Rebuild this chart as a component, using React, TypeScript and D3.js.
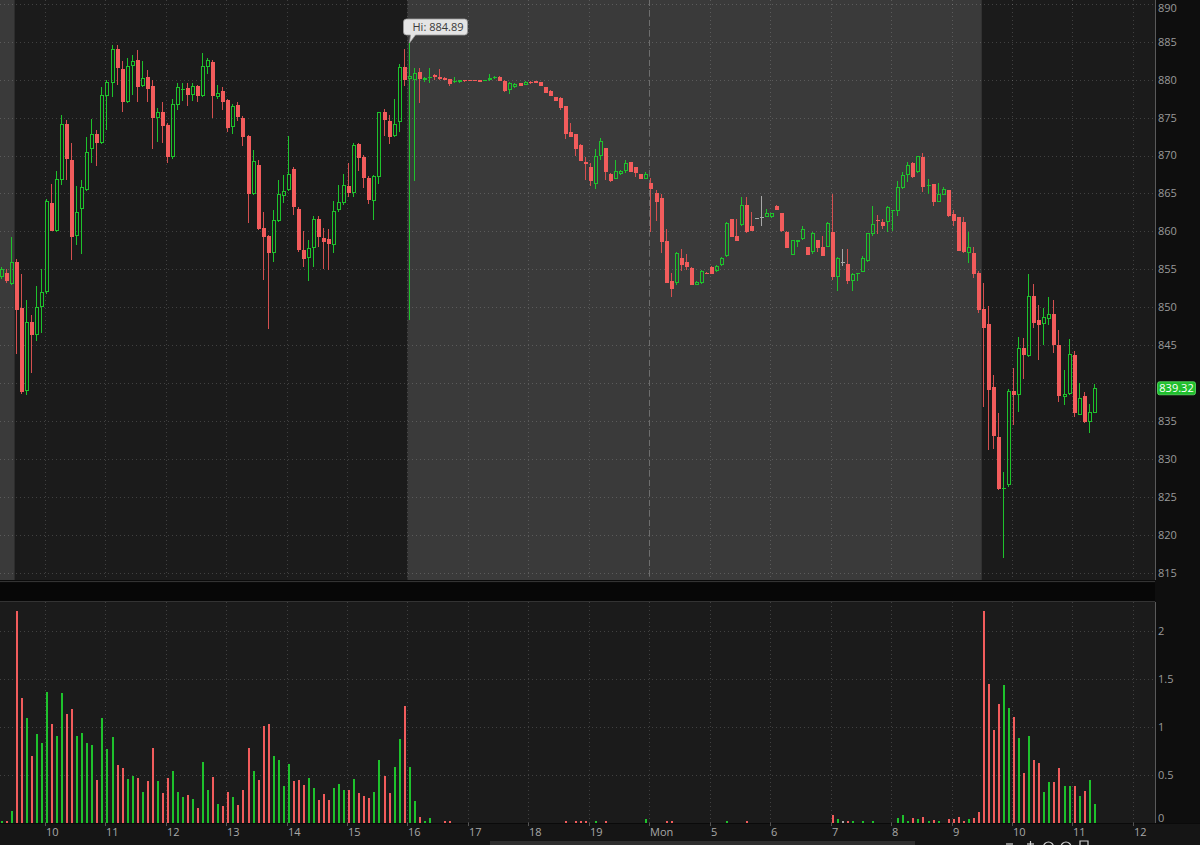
import React, { useEffect } from 'react';
import * as d3 from 'd3';

// [open, high, low, close, volume(M)] per 5-minute bar
type Bar = [number, number, number, number, number];

const FIRST_INDEX = -3; // Friday 9:15 bar

const fridayPre: Bar[] = [
  [854.0, 855.3, 853.7, 855.0, 0.02],
  [854.55, 855.0, 853.2, 853.4, 0.01],
  [853.06, 859.2, 853.0, 856.0, 0.12],
];

const fridaySession: Bar[] = [
  [856.0, 856.4, 843.8, 849.6, 2.21],
  [849.9, 854.4, 838.6, 838.8, 1.3],
  [838.9, 851.0, 838.4, 848.0, 1.09],
  [848.0, 849.0, 841.4, 846.4, 0.7],
  [846.4, 852.8, 845.5, 850.1, 0.92],
  [850.0, 855.0, 846.6, 852.0, 0.83],
  [852.05, 864.3, 851.8, 864.0, 1.36],
  [863.7, 866.2, 860.0, 860.0, 1.03],
  [860.0, 867.9, 859.9, 866.85, 0.9],
  [866.8, 875.3, 866.1, 874.2, 1.35],
  [874.15, 874.7, 866.8, 869.5, 1.13],
  [869.4, 871.6, 856.2, 859.3, 1.18],
  [859.4, 866.0, 858.2, 862.6, 0.9],
  [863.0, 866.8, 857.0, 865.8, 0.93],
  [865.4, 872.4, 865.3, 870.5, 0.83],
  [870.8, 874.8, 869.0, 872.8, 0.81],
  [872.9, 873.4, 868.6, 871.7, 0.44],
  [871.6, 879.0, 871.5, 878.0, 1.09],
  [877.9, 880.0, 873.4, 879.7, 0.77],
  [879.6, 884.6, 877.7, 884.0, 0.89],
  [884.0, 884.6, 879.3, 881.6, 0.6],
  [881.35, 882.4, 875.8, 877.1, 0.57],
  [877.0, 882.9, 876.9, 881.8, 0.46],
  [881.8, 883.2, 878.0, 882.4, 0.49],
  [882.6, 883.9, 877.1, 879.0, 0.47],
  [879.1, 882.4, 879.0, 880.2, 0.32],
  [880.3, 881.3, 877.1, 878.8, 0.43],
  [879.1, 879.9, 870.9, 875.0, 0.78],
  [874.9, 876.3, 871.8, 875.8, 0.43],
  [875.8, 877.0, 871.7, 873.9, 0.31],
  [874.0, 874.3, 869.05, 869.75, 0.47],
  [869.8, 877.5, 869.6, 876.8, 0.54],
  [876.6, 879.5, 876.0, 879.0, 0.32],
  [878.6, 879.5, 877.2, 878.8, 0.27],
  [878.9, 879.6, 876.5, 878.0, 0.29],
  [878.0, 879.5, 877.2, 879.2, 0.25],
  [879.1, 879.3, 877.1, 877.9, 0.15],
  [877.9, 883.5, 877.7, 881.8, 0.63],
  [881.7, 882.8, 880.8, 882.6, 0.34],
  [882.3, 882.6, 875.0, 877.8, 0.48],
  [877.75, 879.3, 877.5, 878.3, 0.2],
  [878.5, 879.0, 876.0, 877.1, 0.17],
  [877.3, 877.5, 873.1, 873.6, 0.32],
  [873.7, 876.8, 872.9, 876.5, 0.27],
  [876.65, 877.0, 874.5, 875.1, 0.18],
  [875.0, 875.2, 871.2, 872.5, 0.34],
  [872.6, 872.7, 861.1, 864.9, 0.78],
  [864.9, 870.7, 864.8, 869.3, 0.54],
  [868.8, 869.4, 860.2, 860.3, 0.44],
  [860.5, 862.6, 853.6, 859.3, 1.01],
  [859.4, 859.5, 847.1, 857.2, 1.03],
  [857.1, 862.8, 856.0, 861.5, 0.7],
  [861.4, 866.8, 861.3, 864.9, 0.65],
  [864.7, 867.4, 863.7, 865.3, 0.38],
  [865.4, 872.6, 865.3, 867.6, 0.61],
  [868.2, 868.5, 862.2, 863.2, 0.43],
  [863.0, 863.2, 857.3, 857.5, 0.44],
  [857.5, 860.0, 855.3, 856.3, 0.39],
  [856.5, 858.9, 853.5, 857.8, 0.47],
  [857.8, 862.0, 855.3, 861.7, 0.36],
  [861.6, 862.0, 858.0, 859.3, 0.24],
  [859.1, 860.4, 855.0, 858.55, 0.3],
  [858.95, 860.3, 854.9, 858.3, 0.24],
  [858.2, 864.0, 857.2, 862.7, 0.36],
  [862.8, 866.1, 862.5, 863.9, 0.4],
  [863.7, 867.6, 863.5, 866.1, 0.34],
  [866.0, 869.0, 864.6, 865.1, 0.34],
  [865.0, 871.6, 864.6, 871.4, 0.46],
  [871.5, 871.7, 867.9, 869.7, 0.31],
  [869.75, 870.1, 865.7, 867.0, 0.28],
  [867.0, 867.3, 863.6, 864.2, 0.26],
  [864.0, 867.4, 861.5, 867.3, 0.32],
  [867.2, 875.8, 866.3, 875.7, 0.65],
  [875.8, 876.1, 872.6, 874.7, 0.49],
  [874.6, 875.3, 871.5, 872.5, 0.31],
  [872.6, 877.5, 872.5, 874.1, 0.58],
  [874.4, 882.0, 873.1, 881.7, 0.87],
  [881.7, 884.0, 879.1, 880.0, 1.22],
];

const fridayAfter: Bar[] = [
  [880.05, 884.89, 848.3, 880.5, 0.58],
  [879.9, 881.5, 866.6, 880.9, 0.23],
  [881.05, 881.6, 876.97, 880.04, 0.06],
  [879.96, 880.4, 879.74, 880.26, 0.02],
  [880.3, 881.5, 879.6, 880.4, 0.05],
  [880.6, 880.8, 879.96, 880.3, 0],
  [880.3, 881.4, 880.0, 880.1, 0],
  [880.2, 880.3, 879.9, 880.0, 0.01],
  [880.1, 880.15, 879.1, 879.4, 0.01],
  [879.7, 880.3, 879.5, 879.8, 0],
  [879.7, 880.0, 879.6, 879.96, 0],
  [879.95, 880.0, 879.75, 879.8, 0],
  [879.95, 880.0, 879.8, 879.85, 0],
  [879.95, 880.0, 879.85, 879.88, 0],
  [879.9, 879.95, 879.7, 879.75, 0],
  [879.9, 880.0, 879.85, 879.96, 0],
  [879.96, 880.75, 879.87, 880.26, 0],
  [880.2, 880.5, 880.15, 880.3, 0],
  [880.4, 880.5, 879.8, 879.82, 0],
  [879.87, 879.96, 878.42, 878.55, 0],
  [878.64, 879.65, 878.11, 879.52, 0],
  [879.0, 879.5, 878.9, 879.4, 0],
  [879.5, 879.6, 879.1, 879.17, 0],
  [879.3, 879.8, 879.25, 879.74, 0],
  [879.74, 879.8, 879.45, 879.5, 0],
  [879.78, 879.8, 879.5, 879.52, 0],
  [879.65, 879.7, 879.15, 879.2, 0],
  [878.99, 879.0, 878.25, 878.29, 0],
  [878.5, 878.6, 877.85, 877.89, 0],
  [877.67, 877.7, 877.15, 877.19, 0],
  [877.54, 877.76, 876.0, 876.22, 0],
  [876.53, 876.53, 872.14, 872.84, 0.01],
  [873.1, 874.24, 872.4, 872.49, 0],
  [872.84, 872.84, 869.94, 870.86, 0.01],
  [871.39, 871.52, 869.32, 869.32, 0.01],
  [869.19, 869.85, 866.78, 868.84, 0.01],
  [868.44, 868.97, 865.98, 866.64, 0],
  [866.2, 870.82, 865.54, 869.94, 0.01],
  [869.94, 872.3, 869.4, 871.92, 0],
  [870.95, 870.95, 866.78, 867.87, 0.02],
  [867.57, 867.74, 866.56, 866.64, 0],
  [866.86, 869.41, 866.86, 868.0, 0],
  [867.52, 868.1, 867.5, 868.0, 0],
  [868.0, 869.41, 867.65, 868.97, 0],
  [869.1, 869.1, 867.87, 867.87, 0],
  [868.53, 868.53, 867.13, 867.65, 0],
  [867.57, 867.6, 866.9, 866.91, 0],
  [866.95, 867.87, 866.86, 867.52, 0.035],
];

const mondayPre: Bar[] = [
  [866.42, 867.0, 859.96, 865.54, 0],
  [865.11, 865.46, 861.42, 863.83, 0],
  [864.36, 864.93, 857.11, 858.65, 0],
  [858.73, 860.27, 853.15, 853.15, 0.02],
  [853.46, 854.47, 851.4, 852.41, 0.02],
  [853.15, 857.3, 853.0, 857.11, 0],
  [856.54, 857.64, 854.82, 855.57, 0],
  [855.97, 857.02, 854.91, 855.26, 0],
  [855.15, 855.3, 853.0, 853.0, 0],
  [852.95, 853.5, 852.9, 853.3, 0],
  [853.17, 854.93, 853.08, 854.84, 0],
  [854.58, 854.6, 854.4, 854.4, 0],
  [855.37, 855.4, 854.4, 854.4, 0],
  [854.75, 855.6, 854.7, 855.5, 0],
  [855.6, 856.6, 855.5, 856.5, 0],
  [856.78, 861.2, 856.6, 861.12, 0.015],
  [861.65, 861.65, 859.24, 859.32, 0],
  [859.45, 861.65, 858.8, 858.8, 0],
  [860.86, 864.5, 860.77, 863.5, 0],
  [863.5, 864.6, 859.8, 859.89, 0.015],
  [860.77, 862.62, 860.0, 860.03, 0],
  [861.74, 861.8, 861.7, 861.74, 0],
  [861.96, 864.73, 860.77, 861.96, 0],
  [861.96, 862.97, 861.96, 862.4, 0],
  [861.87, 862.45, 861.8, 862.4, 0],
  [863.41, 863.45, 862.88, 862.88, 0],
  [862.4, 862.45, 859.89, 860.11, 0],
  [859.98, 860.0, 857.8, 857.83, 0],
  [856.91, 858.88, 856.9, 858.88, 0],
  [858.66, 858.9, 858.0, 858.88, 0],
  [859.02, 860.77, 858.9, 860.33, 0],
  [857.92, 857.95, 856.91, 856.91, 0],
  [857.26, 859.98, 857.04, 859.76, 0],
  [858.88, 858.9, 857.26, 857.83, 0],
  [858.0, 859.37, 856.82, 856.82, 0],
  [857.92, 861.2, 857.9, 861.12, 0],
  [859.89, 864.95, 853.61, 853.96, 0.08],
  [853.96, 856.6, 852.21, 856.47, 0.035],
  [855.94, 857.7, 855.4, 855.94, 0.015],
  [855.72, 857.7, 853.1, 853.44, 0.015],
  [853.44, 854.49, 852.21, 854.4, 0.015],
  [854.45, 854.55, 853.5, 854.53, 0],
  [854.62, 856.82, 854.6, 856.51, 0.01],
  [856.07, 859.76, 856.0, 859.76, 0],
  [859.67, 863.32, 859.45, 860.99, 0.01],
  [861.52, 862.22, 859.67, 861.35, 0],
  [861.21, 861.65, 860.33, 860.77, 0],
  [861.21, 863.41, 859.89, 863.19, 0],
  [862.75, 862.8, 860.11, 862.8, 0],
  [862.66, 866.7, 862.0, 865.83, 0.045],
  [865.69, 867.8, 865.6, 867.45, 0.08],
  [867.45, 869.12, 866.49, 868.81, 0.02],
  [868.99, 869.12, 867.06, 867.14, 0.045],
  [867.8, 869.99, 867.67, 869.91, 0.04],
  [869.78, 870.31, 865.17, 865.83, 0.06],
  [866.05, 866.92, 864.95, 866.13, 0.015],
  [866.27, 866.27, 863.41, 863.94, 0.03],
  [863.94, 866.35, 863.85, 864.95, 0.015],
  [864.86, 865.91, 864.8, 865.61, 0],
  [865.47, 865.47, 861.87, 862.0, 0.04],
  [862.31, 862.84, 860.77, 861.43, 0.04],
  [861.96, 861.96, 857.48, 857.48, 0.06],
  [861.21, 861.87, 857.13, 857.26, 0.02],
  [857.13, 859.89, 855.8, 857.92, 0.035],
  [857.21, 857.92, 853.88, 854.4, 0.05],
  [854.56, 854.8, 849.2, 849.64, 0.11],
];

const mondaySession: Bar[] = [
  [849.73, 853.24, 836.9, 847.31, 2.21],
  [847.75, 850.17, 831.19, 839.1, 1.44],
  [839.53, 841.07, 831.27, 833.08, 0.97],
  [832.86, 836.0, 825.9, 826.0, 1.24],
  [826.0, 828.33, 817.0, 826.15, 1.43],
  [826.57, 839.18, 826.27, 838.96, 1.2],
  [839.0, 841.95, 834.48, 838.44, 1.1],
  [838.44, 846.04, 836.24, 844.59, 0.88],
  [844.59, 845.91, 840.5, 843.71, 0.52],
  [843.58, 854.38, 843.4, 851.49, 0.9],
  [851.49, 853.07, 847.22, 847.97, 0.65],
  [848.32, 850.3, 843.05, 847.66, 0.62],
  [847.75, 849.86, 845.03, 848.67, 0.32],
  [848.41, 851.31, 847.66, 849.11, 0.42],
  [849.11, 850.96, 843.93, 845.03, 0.42],
  [845.03, 847.0, 837.56, 838.3, 0.57],
  [838.22, 841.73, 837.12, 838.57, 0.38],
  [838.57, 845.77, 838.44, 843.8, 0.38],
  [843.71, 844.28, 835.58, 836.11, 0.38],
  [835.8, 839.97, 835.8, 838.0, 0.28],
  [838.3, 838.87, 834.79, 834.92, 0.33],
  [834.92, 837.25, 833.38, 836.24, 0.45],
  [836.11, 839.89, 836.1, 839.32, 0.19],
];

// time axis: bar index of each hour tick and its label
const timeTickIndex = [6, 18, 30, 42, 54, 66, 78, 90, 102, 114, 126, 138, 150, 162, 174, 186, 198, 210, 222];
const timeTickLabels = ['10', '11', '12', '13', '14', '15', '16', '17', '18', '19', 'Mon', '5', '6', '7', '8', '9', '10', '11', '12'];
const priceTicks = [815, 820, 825, 830, 835, 840, 845, 850, 855, 860, 865, 870, 875, 880, 885, 890];
const volumeTicks = [0, 0.5, 1, 1.5, 2];
const volumeTickLabels = ['0', '0.5', '1', '1.5', '2'];
// extended-hours spans (bar index ranges)
const extendedSpans: [number, number][] = [[-2.9, 0], [78, 192]];
const daySeparatorIndex = 126;
const HIGH_LABEL = 'Hi: 884.89';
const HIGH_VALUE = 884.89;
const HIGH_INDEX = 78;
const LAST_PRICE = 839.32;

const W = 1200;
const H = 845;
const PLOT_R = 1155;
const P_TOP = 0;
const P_BOT = 580;
const V_TOP = 602;
const V_BOT = 823;

const GREEN = '#1ec22c';
const RED = '#f25c5c';
const RED_WICK = '#d44f4f';
const GRAY = '#a8a8a8';
const BG_DARK = '#1b1b1b';
const BG_EXT = '#3a3a3a';
const GRID = 'rgba(255,255,255,0.17)';
const FONT = '"Open Sans", "DejaVu Sans", sans-serif';

export default function App() {
  useEffect(() => {
    document.body.style.margin = '0';
    document.body.style.background = '#0b0b0b';
  }, []);

  const x = d3.scaleLinear().domain([-2.9, 226.4]).range([0, PLOT_R]);
  const y = d3.scaleLinear().domain([815, 890]).range([572.8, 3.8]);
  const yv = d3.scaleLinear().domain([0, 2]).range([822.7, 630.7]);

  const all = [...fridayPre, ...fridaySession, ...fridayAfter, ...mondayPre, ...mondaySession];
  const bars = all.map((b, k) => ({ i: FIRST_INDEX + k, o: b[0], h: b[1], l: b[2], c: b[3], v: b[4] }));
  const cxOf = (i: number) => Math.round(x(i + 0.44));

  const candles = bars.map((b) => {
    const cx = cxOf(b.i);
    const up = b.c > b.o;
    const down = b.c < b.o;
    const col = up ? GREEN : down ? RED : GRAY;
    const wickCol = down ? RED_WICK : col;
    const top = Math.round(y(Math.max(b.o, b.c)));
    let bot = Math.round(y(Math.min(b.o, b.c)));
    if (bot - top < 1) bot = top + 1;
    const hy = Math.round(y(b.h));
    const ly = Math.round(y(b.l));
    const wx = cx - 0.5;
    return (
      <g key={b.i}>
        {hy < top && <line x1={wx} x2={wx} y1={hy} y2={top} stroke={wickCol} strokeWidth={1} />}
        {ly > bot && <line x1={wx} x2={wx} y1={bot} y2={ly} stroke={wickCol} strokeWidth={1} />}
        {up && bot - top >= 2 ? (
          <rect x={cx - 1.5} y={top + 0.5} width={3} height={bot - top - 1} fill="none" stroke={col} strokeWidth={1} />
        ) : (
          <rect x={cx - 2} y={top} width={4} height={bot - top} fill={col} />
        )}
      </g>
    );
  });

  const volBars = bars
    .filter((b) => b.v > 0)
    .map((b) => {
      const cx = cxOf(b.i);
      const col = b.c > b.o ? GREEN : b.c < b.o ? RED : GRAY;
      const t = Math.min(Math.round(yv(b.v)), 821);
      return <rect key={'v' + b.i} x={cx - 1} y={t} width={2} height={V_BOT - t} fill={col} />;
    });

  const hourX = timeTickIndex.map((i) => Math.round(x(i)) + 0.5);

  const hiCx = cxOf(HIGH_INDEX) - 0.5;
  const hiY = Math.round(y(HIGH_VALUE));
  const lastY = y(LAST_PRICE);
  // price labels hidden behind the last-price bubble
  const visiblePriceLabels = priceTicks.filter((t) => Math.abs(y(t) - lastY) > 10);

  return (
    <svg width={W} height={H} style={{ position: 'absolute', left: 0, top: 0, display: 'block' }} fontFamily={FONT}>
      <rect x={0} y={0} width={W} height={H} fill="#0b0b0b" />
      {/* price pane */}
      <rect x={0} y={P_TOP} width={PLOT_R} height={P_BOT - P_TOP} fill={BG_DARK} />
      {extendedSpans.map(([a, b], k) => (
        <rect key={'ext' + k} x={Math.max(0, x(a))} y={P_TOP} width={x(b) - Math.max(0, x(a))} height={P_BOT - P_TOP} fill={BG_EXT} />
      ))}
      {/* volume pane */}
      <rect x={0} y={V_TOP} width={PLOT_R} height={V_BOT - V_TOP} fill={BG_DARK} />
      {/* axis strip */}
      <rect x={0} y={V_BOT} width={W} height={H - V_BOT} fill="#151515" />
      <rect x={490} y={841} width={425} height={4} fill="#2f2f2f" />
      <rect x={PLOT_R} y={0} width={W - PLOT_R} height={V_BOT} fill="#0e0e0e" />
      {/* separators */}
      <line x1={0} x2={PLOT_R} y1={P_BOT + 1.5} y2={P_BOT + 1.5} stroke="#333" />
      <rect x={0} y={P_BOT + 3} width={PLOT_R} height={V_TOP - P_BOT - 4} fill="#070707" />
      <line x1={0} x2={PLOT_R} y1={V_TOP - 0.5} y2={V_TOP - 0.5} stroke="#333" />
      <line x1={0} x2={W} y1={V_BOT + 0.5} y2={V_BOT + 0.5} stroke="#0a0a0a" />

      {/* price grid */}
      {priceTicks.map((t) => (
        <line key={'pg' + t} x1={0} x2={PLOT_R} y1={Math.round(y(t)) + 0.5} y2={Math.round(y(t)) + 0.5} stroke={GRID} strokeDasharray="1,3" />
      ))}
      {hourX.map((hx, k) => (
        <line key={'pv' + k} x1={hx} x2={hx} y1={P_TOP} y2={P_BOT} stroke={GRID} strokeDasharray="1,3" />
      ))}
      {/* volume grid */}
      {volumeTicks.filter((t) => t > 0).map((t) => (
        <line key={'vg' + t} x1={0} x2={PLOT_R} y1={Math.round(yv(t)) + 0.5} y2={Math.round(yv(t)) + 0.5} stroke={GRID} strokeDasharray="1,3" />
      ))}
      {hourX.map((hx, k) => (
        <line key={'vv' + k} x1={hx} x2={hx} y1={V_TOP} y2={V_BOT} stroke={GRID} strokeDasharray="1,3" />
      ))}
      {/* day separator */}
      <line x1={Math.round(x(daySeparatorIndex)) + 0.5} x2={Math.round(x(daySeparatorIndex)) + 0.5} y1={P_TOP} y2={P_BOT} stroke="#6e6e6e" strokeDasharray="6,4" />

      {candles}
      {volBars}

      {/* axes lines */}
      <line x1={PLOT_R + 0.5} x2={PLOT_R + 0.5} y1={0} y2={P_BOT} stroke="#5a5a5a" />
      <line x1={PLOT_R + 0.5} x2={PLOT_R + 0.5} y1={V_TOP} y2={V_BOT} stroke="#5a5a5a" />

      {/* price axis labels */}
      {visiblePriceLabels.map((t) => (
        <text key={'pl' + t} x={PLOT_R + 3} y={Math.max(y(t), 8)} dy="0.36em" fontSize={11} fill="#9a9a9a">
          {t}
        </text>
      ))}
      {/* volume axis labels */}
      {volumeTicks.map((t, k) => (
        <text key={'vl' + t} x={PLOT_R + 3} y={Math.min(yv(t), 818)} dy="0.36em" fontSize={11} fill="#9a9a9a">
          {volumeTickLabels[k]}
        </text>
      ))}
      {/* time axis */}
      {hourX.map((hx, k) => (
        <g key={'tl' + k}>
          <line x1={hx} x2={hx} y1={V_BOT} y2={V_BOT + 3} stroke="#555" />
          <text x={hx + 0.5} y={836} fontSize={11} fill="#a8a8a8">
            {timeTickLabels[k]}
          </text>
        </g>
      ))}

      {/* high callout */}
      <g>
        <path
          d={`M${hiCx - 3},${hiY - 24} h58 a3,3 0 0 1 3,3 v10 a3,3 0 0 1 -3,3 h-49 L${hiCx},${hiY} L${hiCx + 1},${hiY - 8} h-4 a3,3 0 0 1 -3,-3 v-10 a3,3 0 0 1 3,-3 z`}
          fill="#e4e4e4"
          stroke="#9a9a9a"
          strokeWidth={0.8}
        />
        <text x={hiCx + 3} y={hiY - 12} fontSize={11} fill="#3a3a3a">
          {HIGH_LABEL}
        </text>
      </g>

      {/* last price label */}
      <rect x={1157.5} y={lastY - 6.5} width={38} height={13} rx={2} fill="#1fbf2d" stroke="#5fe06a" strokeWidth={0.8} />
      <text x={1176.5} y={lastY} dy="0.36em" fontSize={11} fill="#ffffff" textAnchor="middle">
        {LAST_PRICE.toFixed(2)}
      </text>

      {/* bottom-right zoom controls (partially visible) */}
      <g stroke="#d0d0d0" fill="none" strokeWidth={1.2}>
        <line x1={1006} x2={1013} y1={844} y2={844} />
        <line x1={1027} x2={1034} y1={844} y2={844} />
        <line x1={1030.5} x2={1030.5} y1={841} y2={845} />
        <circle cx={1048.5} cy={847} r={5} />
        <circle cx={1066} cy={847} r={5} />
        <path d="M1080,845 v-4 h8 v4" />
      </g>
    </svg>
  );
}
